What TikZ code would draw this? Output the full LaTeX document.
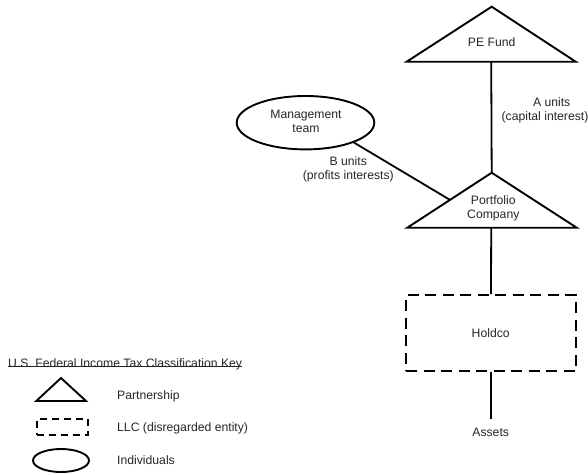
\documentclass[tikz,border=0pt]{standalone}
\usepackage{fontspec}
\setmainfont{Liberation Sans}
\usetikzlibrary{shapes.geometric}
\begin{document}
\begin{tikzpicture}[x=1pt,y=-1pt,
  lbl/.style={font=\fontsize{12.2}{14.3}\selectfont, inner sep=0pt, text=black!85},
  shp/.style={draw=black, line width=1.9pt},
  conn/.style={draw=black, line width=1.8pt},
  llc/.style={draw=black, line width=1.9pt, dash pattern=on 11pt off 6.5pt},
  llcsmall/.style={draw=black, line width=1.9pt, dash pattern=on 7pt off 5pt}]
\useasboundingbox (0,0) rectangle (588,474);
% PE Fund triangle
\coordinate (peapex) at (491.7,6.7);
\coordinate (pebl) at (406.7,61.7);
\coordinate (pebr) at (575.7,61.7);
\coordinate (pebase) at (491.2,61.7);
\draw[shp] (peapex) -- (pebr) -- (pebl) -- cycle;
\node[lbl, anchor=base] (pe) at (491.7,46.5) {PE Fund};
% Portfolio Company triangle
\coordinate (pcapex) at (491.7,172.7);
\coordinate (pcbl) at (407.3,227.7);
\coordinate (pcbr) at (576.7,227.7);
\coordinate (pcbase) at (491.2,227.7);
\coordinate (pcleft) at (450,199.9);
\draw[shp] (pcapex) -- (pcbr) -- (pcbl) -- cycle;
\node[lbl, anchor=base] (pc1) at (493.3,204) {Portfolio};
\node[lbl, anchor=base] (pc2) at (493.3,218.3) {Company};
% Management team
\node[shp, ellipse, minimum width=137.6pt, minimum height=53.4pt, inner sep=0pt] (mgmt) at (305.5,122.7) {};
\coordinate (mgline) at (353,142);
\node[lbl, anchor=base] (mg1) at (306,118.3) {Management};
\node[lbl, anchor=base] (mg2) at (306,132.7) {team};
% Holdco
\node[llc, minimum width=169.7pt, minimum height=75.7pt, inner sep=0pt] (holdco) at (491,333) {};
\node[lbl, anchor=base] (hc) at (490.7,337.3) {Holdco};
\coordinate (assetsend) at (491,419);
\node[lbl, anchor=base] (assets) at (490.7,436.7) {Assets};
% connectors
\draw[conn] (pebase) -- (pcapex);
\draw[conn] (mgline) -- (pcleft);
\draw[conn] (pcbase) -- (holdco.north);
\draw[conn] (holdco.south) -- (assetsend);
% connector labels
\node[lbl, anchor=base] (au1) at (551.7,106.7) {A units};
\node[lbl, anchor=base] (au2) at (545,120.5) {(capital interest)};
\node[lbl, anchor=base] (bu1) at (348.3,165) {B units};
\node[lbl, anchor=base] (bu2) at (348.3,179.3) {(profits interests)};
% legend
\node[lbl, anchor=base west] (title) at (8,367.7) {U.S. Federal Income Tax Classification Key};
\draw[line width=0.8pt, black!85] ([yshift=1.4pt]title.base west) -- ([yshift=1.4pt]title.base east);
\coordinate (lta) at (61,378);
\coordinate (ltl) at (36.3,401);
\coordinate (ltr) at (86,401);
\draw[shp] (lta) -- (ltr) -- (ltl) -- cycle;
\node[lbl, anchor=base west] (kp) at (117,399.3) {Partnership};
\node[llcsmall, minimum width=51pt, minimum height=16pt, inner sep=0pt] (lrect) at (62.5,427) {};
\node[lbl, anchor=base west] (kl) at (117,431) {LLC (disregarded entity)};
\node[shp, ellipse, minimum width=56pt, minimum height=23pt, inner sep=0pt] (lell) at (61,460.5) {};
\node[lbl, anchor=base west] (ki) at (117,464.3) {Individuals};
\end{tikzpicture}
\end{document}
